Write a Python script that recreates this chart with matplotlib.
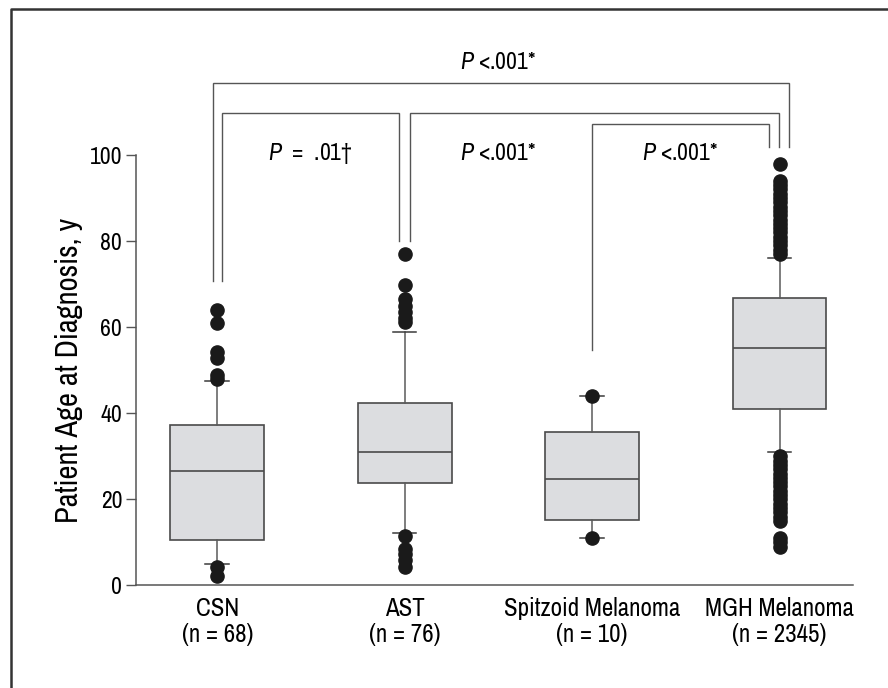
import matplotlib
matplotlib.use("Agg")
import matplotlib.pyplot as plt
from matplotlib import font_manager
from matplotlib.lines import Line2D

# ---- data ----
groups = ["CSN", "AST", "Spitzoid Melanoma", "MGH Melanoma"]
counts = [68, 76, 10, 2345]
medians = [26.5, 31.1, 24.8, 55.2]
q1 = [10.5, 23.9, 15.1, 41.1]
q3 = [37.3, 42.3, 35.7, 66.7]
whisk_lo = [5.0, 12.2, 11.0, 31.0]
whisk_hi = [47.6, 59.0, 44.0, 76.0]
fliers_csn = [64.1, 60.9, 54.2, 52.9, 48.8, 48.0, 4.2, 2.3]
fliers_ast = [77.0, 69.7, 66.5, 65.0, 63.5, 62.2, 61.1, 11.4, 8.5, 7.3, 6.0, 4.2]
fliers_spitz = [44.0, 11.0]
fliers_mgh = [98] + list(range(77, 95)) + list(range(15, 31)) + [9, 10, 11]
fliers = [fliers_csn, fliers_ast, fliers_spitz, fliers_mgh]

p_labels = [" <.001*", "  =  .01\u2020", " <.001*", " <.001*"]

# ---- fonts ----
names = {f.name for f in font_manager.fontManager.ttflist}
fam = "Liberation Sans"
for cand in ["Archivo Narrow", "Roboto Condensed", "IBM Plex Sans Condensed",
             "Liberation Sans Narrow"]:
    if cand in names:
        fam = cand
        break
plt.rcParams["font.family"] = [fam, "DejaVu Sans"]
plt.rcParams["mathtext.fontset"] = "custom"
plt.rcParams["mathtext.it"] = fam + ":italic"
plt.rcParams["mathtext.rm"] = fam

fig = plt.figure(figsize=(8.88, 6.88), dpi=100)
ax = fig.add_axes([0.1532, 0.1490, 0.8077, 0.6257])

stats = []
for i, g in enumerate(groups):
    stats.append(dict(med=medians[i], q1=q1[i], q3=q3[i],
                      whislo=whisk_lo[i], whishi=whisk_hi[i],
                      fliers=fliers[i], label=f"{g}\n(n = {counts[i]})"))

edge = "#4a4a4a"
ax.bxp(stats, positions=[1, 2, 3, 4], widths=0.5, patch_artist=True,
       capwidths=0.125,
       boxprops=dict(facecolor="#dcdde0", edgecolor=edge, linewidth=1.2),
       medianprops=dict(color=edge, linewidth=1.2),
       whiskerprops=dict(color="#5a5a5a", linewidth=1.1),
       capprops=dict(color="#3a3a3a", linewidth=1.1),
       flierprops=dict(marker="o", markerfacecolor="#1a1a1a",
                       markeredgecolor="#1a1a1a", markersize=9.5))

ax.set_xlim(0.567, 4.393)
ax.set_ylim(0, 100)
ax.set_yticks([0, 20, 40, 60, 80, 100])
ax.tick_params(axis="y", labelsize=17, length=7, width=1, color="#555555", pad=3)
ax.tick_params(axis="x", labelsize=18, length=0, pad=8)
for s in ["top", "right"]:
    ax.spines[s].set_visible(False)
for s in ["left", "bottom"]:
    ax.spines[s].set_color("#555555")
    ax.spines[s].set_linewidth(1.1)
ax.set_ylabel("Patient Age at Diagnosis, y", fontsize=22, labelpad=5)

# ---- significance brackets ----
brackets = [  # x_left, x_right, y_top, y_left_end, y_right_end
    (0.979, 4.050, 116.8, 70.8, 101.8),
    (1.024, 1.971, 109.8, 70.8, 80.0),
    (2.028, 3.998, 109.8, 80.0, 101.8),
    (3.000, 3.944, 107.1, 54.6, 101.8),
]
for xl, xr, yt, yl, yr in brackets:
    ax.plot([xl, xl, xr, xr], [yl, yt, yt, yr], color="#555555",
            linewidth=1.0, clip_on=False, solid_joinstyle="miter")

def ptext(x, y, rest):
    ax.text(x, y, r"$\mathit{P}$" + rest, ha="center", va="center",
            fontsize=17, clip_on=False)

ptext(2.5, 121.5, p_labels[0])
ptext(1.495, 100.3, p_labels[1])
ptext(2.5, 100.3, p_labels[2])
ptext(3.47, 100.3, p_labels[3])

# frame (only its left and top edges fall inside the picture)
fx, fy = 11 / 888, 1 - 9 / 688
fig.add_artist(Line2D([fx, fx, 1.0], [0.0, fy, fy], transform=fig.transFigure,
                      color="#333333", linewidth=1.8))

fig.savefig("out.png", dpi=100)
